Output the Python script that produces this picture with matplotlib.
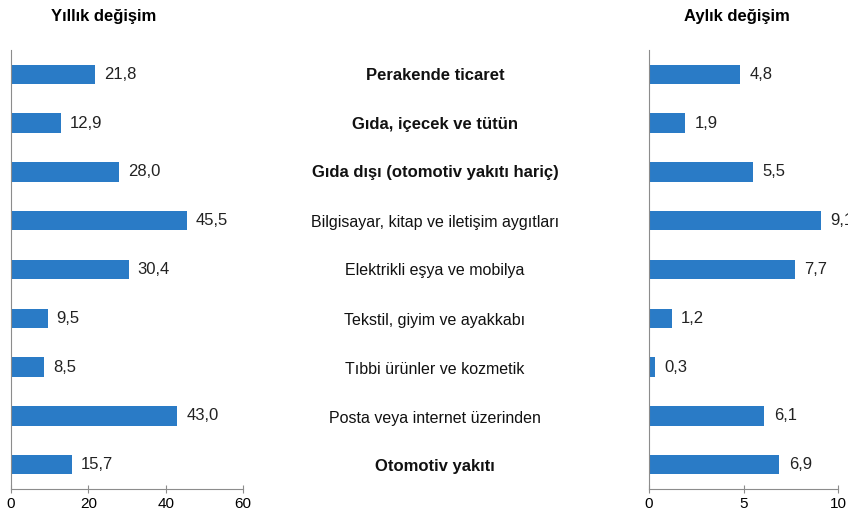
import matplotlib.pyplot as plt

plt.rcParams['font.family'] = ['Liberation Sans', 'DejaVu Sans']

# data
categories = ['Perakende ticaret', 'Gıda, içecek ve tütün', 'Gıda dışı (otomotiv yakıtı hariç)',
              'Bilgisayar, kitap ve iletişim aygıtları', 'Elektrikli eşya ve mobilya',
              'Tekstil, giyim ve ayakkabı', 'Tıbbi ürünler ve kozmetik',
              'Posta veya internet üzerinden', 'Otomotiv yakıtı']
bold = [True, True, True, False, False, False, False, False, True]
annual = [21.8, 12.9, 28.0, 45.5, 30.4, 9.5, 8.5, 43.0, 15.7]
monthly = [4.8, 1.9, 5.5, 9.1, 7.7, 1.2, 0.3, 6.1, 6.9]

W, H = 848, 518
fig = plt.figure(figsize=(W / 100, H / 100), dpi=100)
color = '#2a7bc6'
grey = '#8c8c8c'

def panel(left_px, right_px, values, xmax, ticks, offset, title, title_x):
    ax = fig.add_axes([left_px / W, (H - 489) / H, (right_px - left_px) / W, 439 / H])
    y = list(range(len(values)))
    ax.barh(y, values, height=0.4, color=color)
    ax.set_ylim(len(values) - 0.5, -0.5)
    ax.set_xlim(0, xmax)
    ax.set_xticks(ticks)
    ax.set_yticks([])
    for s in ['top', 'right']:
        ax.spines[s].set_visible(False)
    for s in ['left', 'bottom']:
        ax.spines[s].set_color(grey)
    ax.tick_params(axis='x', direction='inout', length=6, color=grey, labelsize=11, pad=3)
    for yi, v in zip(y, values):
        ax.text(v + offset, yi, f'{v:.1f}'.replace('.', ','), va='center', ha='left',
                fontsize=12, color='#222222', clip_on=False)
    fig.text(title_x / W, 1 - 16 / H, title, ha='center', va='center',
             fontsize=12, fontweight='bold')
    return ax

panel(11, 243, annual, 60, [0, 20, 40, 60], 2.3, 'Yıllık değişim', 104)
panel(649, 838, monthly, 10, [0, 5, 10], 0.5, 'Aylık değişim', 737)

for i, (c, b) in enumerate(zip(categories, bold)):
    ypx = 75 + i * 49
    fig.text(435 / W, 1 - ypx / H, c, ha='center', va='center',
             fontsize=12 if b else 11.5,
             fontweight='bold' if b else 'normal', color='#111111')

fig.savefig('out.png', dpi=100)
